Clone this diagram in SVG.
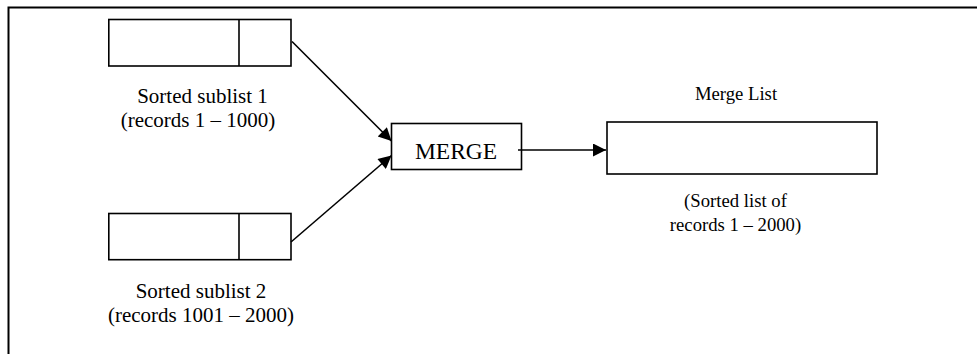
<svg xmlns="http://www.w3.org/2000/svg" width="977" height="354" viewBox="0 0 977 354">
<style>
.box{fill:#fff;stroke:#000;stroke-width:1.6}
.frame{fill:none;stroke:#000;stroke-width:2}
.t{font-family:"Liberation Serif","Times New Roman",serif;font-size:21px;fill:#000;text-anchor:middle}
.sm{font-size:18.7px}
.big{font-size:23.5px}
.c{stroke:#000;stroke-width:1.6;fill:none}
</style>
<defs>
<marker id="ahb" viewBox="0 0 10 10" refX="10" refY="5" markerWidth="16" markerHeight="13" markerUnits="userSpaceOnUse" orient="auto">
<path d="M0,0 L10,5 L0,10 z" fill="#000"/>
</marker>
</defs>
<rect width="977" height="354" fill="#fff"/>
<rect class="frame" x="8.5" y="7.5" width="1000" height="400"/>
<g id="sublist1">
<rect class="box" x="108.8" y="19.5" width="182.2" height="46.5"/>
<line class="c" x1="239" y1="19.5" x2="239" y2="66"/>
<text class="t" x="202.5" y="103">Sorted sublist 1</text>
<text class="t" x="198" y="127">(records 1 – 1000)</text>
</g>
<g id="sublist2">
<rect class="box" x="108.8" y="213.5" width="182.2" height="46.2"/>
<line class="c" x1="239" y1="213.5" x2="239" y2="259.7"/>
<text class="t" x="201" y="297.5">Sorted sublist 2</text>
<text class="t" x="201" y="321.5">(records 1001 – 2000)</text>
</g>
<g id="merge">
<rect class="box" x="391.5" y="123.5" width="130" height="46"/>
<text class="t big" x="456" y="159">MERGE</text>
</g>
<g id="mergelist">
<text class="t sm" x="736" y="100">Merge List</text>
<rect class="box" x="607" y="122" width="270" height="52"/>
<text class="t sm" x="735.5" y="206.5">(Sorted list of</text>
<text class="t sm" x="735.5" y="230.5">records 1 – 2000)</text>
</g>
<g id="connectors">
<line class="c" x1="292" y1="41.5" x2="391.5" y2="141" marker-end="url(#ahb)"/>
<line class="c" x1="291" y1="242" x2="391.5" y2="155.5" marker-end="url(#ahb)"/>
<line class="c" x1="518" y1="150" x2="606" y2="150" marker-end="url(#ahb)"/>
</g>
</svg>
